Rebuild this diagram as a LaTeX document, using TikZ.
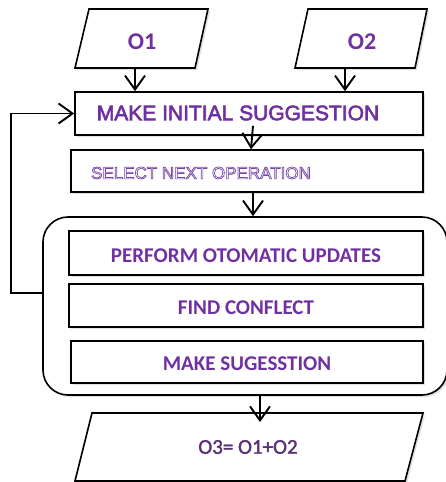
\documentclass[tikz,border=0pt]{standalone}
\usepackage{fontspec}
\setmainfont{Carlito}
\newfontfamily\arialf{Liberation Sans}
\usetikzlibrary{arrows.meta,shadows}
\definecolor{opurple}{HTML}{7030A0}
\definecolor{dpurple}{HTML}{5A3079}
\definecolor{lpurple}{HTML}{7446A6}
\begin{document}
\begin{tikzpicture}[x=1pt,y=-1pt,
  shad/.style={drop shadow={shadow xshift=2pt,shadow yshift=-2pt,opacity=0.25}},
  box/.style={draw=black, line width=1.6pt, fill=white, rectangle, inner sep=0pt, shad},
  para/.style={draw=black, line width=1.6pt, fill=white, line join=miter, shad},
  tip/.style={-{Straight Barb[length=14pt,width=20pt,line width=1.9pt]}},
  arr/.style={line width=1.9pt, tip},
  cal/.style={font=\bfseries\fontsize{21}{21}\selectfont, text=opurple, inner sep=0pt},
  big/.style={font=\bfseries\fontsize{24}{24}\selectfont, text=opurple, inner sep=0pt},
  ari/.style={font=\arialf\fontsize{21}{21}\selectfont, text=opurple, inner sep=0pt}]
\useasboundingbox (0,0) rectangle (445,482);

% input parallelograms
\path[para] (89,9) -- (208,9) -- (195,68) -- (75,68) -- cycle;
\node[big] (o1) at (142,42) {O1};
\coordinate (o1b) at (135,68);
\path[para] (308,9) -- (427,9) -- (415,68) -- (295,68) -- cycle;
\node[big] (o2) at (362,42) {O2};
\coordinate (o2b) at (345,68);

% main boxes
\node[box, minimum width=348pt, minimum height=43pt] (make) at (249,113.5) {};
\node[ari] (maket) at (238,113)
  {\special{pdf:code 2 Tr 0.6 w}MAKE INITIAL SUGGESTION\special{pdf:code 0 Tr 1.6 w}};
\node[box, minimum width=352pt, minimum height=42pt] (select) at (247,171) {};

% group box
\node[box, rounded corners=25pt, minimum width=404pt, minimum height=178pt] (grp) at (245,306) {};
\node[box, minimum width=354pt, minimum height=44pt] (perform) at (246,253) {};
\node[cal] (performt) at (246,256) {PERFORM OTOMATIC UPDATES};
\node[box, minimum width=354pt, minimum height=43pt] (find) at (246,305.5) {};
\node[cal] (findt) at (246,308) {FIND CONFLECT};
\node[box, minimum width=352pt, minimum height=42pt] (mksug) at (247,362) {};
\node[cal] (mksugt) at (247,364) {MAKE SUGESSTION};

% output parallelogram
\path[para] (92,413) -- (423,413) -- (405,481) -- (75,481) -- cycle;
\node[font=\fontsize{21}{21}\selectfont, text=dpurple, inner sep=0pt] (o3) at (248,447)
  {\special{pdf:code 2 Tr 0.35 w}O3= O1+O2\special{pdf:code 0 Tr 1.6 w}};
\coordinate (o3top) at (260,422);

% connectors
\draw[arr] (o1b) -- (o1b |- make.north);
\draw[arr] (o2b) -- (o2b |- make.north);
\draw[arr] ([xshift=4pt,yshift=10pt]make.south) -- ([xshift=4pt]select.north);
\draw[arr] ([xshift=6pt]select.south) -- ([xshift=6pt]select.south |- grp.north);
\draw[arr] (o3top |- grp.south) -- (o3top);
\draw[arr] ([yshift=13pt]grp.west) -- ++(-31,0) |- (make.west);

% outlined text
\node[font=\arialf\fontsize{17}{17}\selectfont, text=lpurple, inner sep=0pt] (selectt) at (201,173)
  {\special{pdf:code 1 Tr 0.7 w}SELECT NEXT OPERATION\special{pdf:code 0 Tr 1.6 w}};
\end{tikzpicture}
\end{document}
